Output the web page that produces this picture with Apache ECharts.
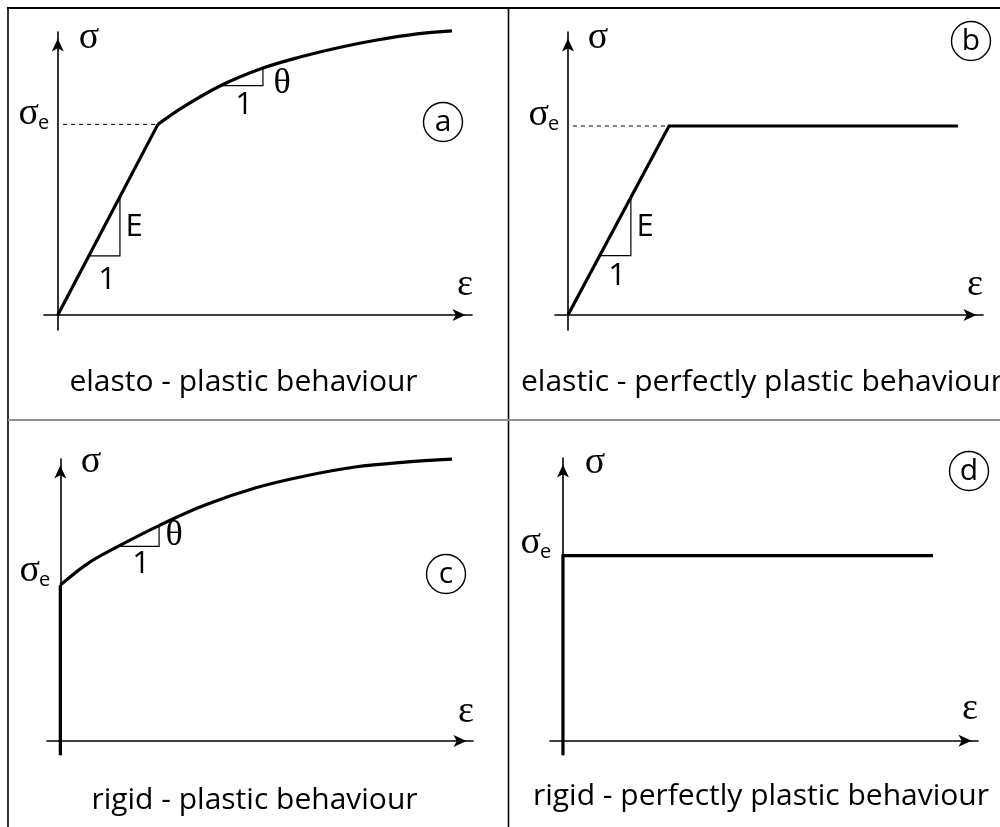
<!DOCTYPE html>
<html>
<head>
<meta charset="utf-8">
<title>Stress-strain idealisations</title>
<script src="https://cdn.jsdelivr.net/npm/echarts@6/dist/echarts.min.js"></script>
<style>
  html, body { margin: 0; padding: 0; background: #fff; }
  #chart { width: 1000px; height: 827px; }
</style>
</head>
<body>
<div id="chart"></div>
<script>
// ---- Panel (a): elasto-plastic behaviour ----
const elastoElastic = [[0, 0], [7.25, 12.8]];
const elastoHardening = [[7.25, 12.8], [9.07, 13.96], [11.89, 15.44], [14.86, 16.58], [17.54, 17.32],
  [20.22, 17.93], [23.12, 18.46], [26.02, 18.87], [28.55, 19.07]];
const elastoYieldGuide = [[0.38, 12.8], [7.25, 12.8]];
const elastoSlopeE = [[2.25, 3.97], [4.5, 3.97], [4.5, 7.95]];
const elastoSlopeTheta = [[11.75, 15.4], [14.86, 15.4], [14.86, 16.58]];

// ---- Panel (b): elastic - perfectly plastic behaviour ----
const perfectElasticPlastic = [[0, 0], [7.79, 12.69], [30.07, 12.69]];
const perfectYieldGuide = [[0.39, 12.69], [7.79, 12.69]];
const perfectSlopeE = [[2.45, 3.99], [4.85, 3.99], [4.85, 7.9]];

// ---- Panel (c): rigid-plastic behaviour ----
const rigidRise = [[0, -1], [0, 11.05]];
const rigidHardening = [[0, 11.05], [2.08, 12.6], [4.34, 13.8], [7.49, 15.31], [10.87, 16.73],
  [14.63, 17.94], [18.38, 18.79], [22.13, 19.43], [25.89, 19.78], [29.42, 19.99]];
const rigidSlopeTheta = [[4.34, 13.8], [7.42, 13.8], [7.42, 15.3]];

// ---- Panel (d): rigid - perfectly plastic behaviour ----
const rigidPerfect = [[0, -1], [0, 13.1], [28.53, 13.1]];

// axis extents per panel (strain, stress)
const strainRanges = [[-1, 30], [-1, 32], [-1, 31], [-1, 32]];
const stressRanges = [[-1, 19], [-1, 19], [-1, 20], [-1, 20]];

const panelTags = ['a', 'b', 'c', 'd'];
const captions = [
  'elasto - plastic behaviour',
  'elastic - perfectly plastic behaviour',
  'rigid - plastic behaviour',
  'rigid - perfectly plastic behaviour'
];
const stressSymbol = 'σ';
const strainSymbol = 'ε';
const yieldSub = 'e';

const chart = echarts.init(document.getElementById('chart'), null, { renderer: 'canvas' });

const grids = [
  { left: 44, top: 32, width: 428, height: 298 },
  { left: 555, top: 32, width: 428, height: 298 },
  { left: 47, top: 459, width: 426, height: 296 },
  { left: 550, top: 458, width: 428, height: 297 }
];

const axisLineStyle = { color: '#000', width: 1.6 };
function makeAxis(i, range) {
  return {
    type: 'value', gridIndex: i, min: range[0], max: range[1],
    axisLine: {
      show: true, onZero: true,
      symbol: ['none', 'arrow'], symbolSize: [9, 13], symbolOffset: [0, -6.5],
      lineStyle: axisLineStyle
    },
    axisTick: { show: false }, axisLabel: { show: false }, splitLine: { show: false }
  };
}

function lineSeries(i, data, width, extra) {
  return Object.assign({
    type: 'line', xAxisIndex: i, yAxisIndex: i, data: data,
    showSymbol: false, symbol: 'none', clip: false, silent: true,
    lineStyle: { color: '#000', width: width, join: 'miter', cap: 'butt' },
    animation: false, z: 3
  }, extra || {});
}

const thick = 3.2, thin = 1.2;
const dashed = { lineStyle: { color: '#000', width: 1, type: [4, 4] } };
const series = [
  lineSeries(0, elastoElastic, thick),
  lineSeries(0, elastoHardening, thick, { smooth: 0.35 }),
  lineSeries(0, elastoYieldGuide, 1, dashed),
  lineSeries(0, elastoSlopeE, thin),
  lineSeries(0, elastoSlopeTheta, thin),

  lineSeries(1, perfectElasticPlastic, thick),
  lineSeries(1, perfectYieldGuide, 1, dashed),
  lineSeries(1, perfectSlopeE, thin),

  lineSeries(2, rigidRise, thick),
  lineSeries(2, rigidHardening, thick, { smooth: 0.35 }),
  lineSeries(2, rigidSlopeTheta, thin),

  lineSeries(3, rigidPerfect, thick)
];

// annotation helpers
const greek = '"Liberation Serif", "DejaVu Serif", serif';
const sans = '"Open Sans", "Noto Sans", sans-serif';
const greekSize = 38;
function txt(x, y, text, size, family, align) {
  return {
    type: 'text', x: x, y: y, z: 10, silent: true,
    style: { text: text, fontSize: size, fontFamily: family, fill: '#000',
      align: align || 'center', verticalAlign: 'middle' }
  };
}
function ring(cx, cy, letter) {
  return [
    { type: 'circle', z: 10, silent: true, shape: { cx: cx, cy: cy, r: 19.5 },
      style: { fill: 'none', stroke: '#000', lineWidth: 1.4 } },
    txt(cx, cy, letter, 30, sans)
  ];
}
// σ with subscript e, right edge of the pair placed at x
function yieldLabel(xRight, y) {
  return [
    txt(xRight - 10, y, stressSymbol, greekSize, greek, 'right'),
    txt(xRight - 11, y + 9, yieldSub, 20, sans, 'left')
  ];
}
function frameLine(x1, y1, x2, y2, color, w) {
  return { type: 'line', z: 20, silent: true, shape: { x1: x1, y1: y1, x2: x2, y2: y2 },
    style: { stroke: color, lineWidth: w } };
}

const graphics = [
  // frame
  frameLine(7, 8, 1000, 8, '#000', 2),
  frameLine(8, 7, 8, 827, '#000', 1.6),
  frameLine(508.5, 8, 508.5, 827, '#000', 1.6),
  frameLine(8, 420, 1000, 420, '#8f8f8f', 2),

  // (a)
  txt(89, 38, stressSymbol, greekSize, greek),
  ...yieldLabel(49, 114),
  txt(465, 285, strainSymbol, greekSize, greek),
  txt(134, 227, 'E', 31, sans),
  txt(107, 280, '1', 31, sans),
  txt(282, 84, 'θ', 36, greek),
  txt(244, 105, '1', 31, sans),
  ...ring(443, 122, panelTags[0]),
  txt(243.5, 382, captions[0], 30, sans),

  // (b)
  txt(598, 38, stressSymbol, greekSize, greek),
  ...yieldLabel(559, 115),
  txt(975, 285, strainSymbol, greekSize, greek),
  txt(645, 227, 'E', 31, sans),
  txt(617, 276, '1', 31, sans),
  ...ring(971, 41, panelTags[1]),
  txt(521, 382, captions[1], 30, sans, 'left'),

  // (c)
  txt(91, 462, stressSymbol, greekSize, greek),
  ...yieldLabel(50, 571),
  txt(466, 712, strainSymbol, greekSize, greek),
  txt(174, 536, 'θ', 36, greek),
  txt(141, 564, '1', 31, sans),
  ...ring(446, 574, panelTags[2]),
  txt(254.5, 800, captions[2], 30, sans),

  // (d)
  txt(595, 463, stressSymbol, greekSize, greek),
  ...yieldLabel(551, 543),
  txt(970, 709, strainSymbol, greekSize, greek),
  ...ring(969, 471, panelTags[3]),
  txt(761, 796, captions[3], 30, sans)
];

chart.setOption({
  backgroundColor: '#fff',
  animation: false,
  grid: grids,
  xAxis: strainRanges.map((r, i) => makeAxis(i, r)),
  yAxis: stressRanges.map((r, i) => makeAxis(i, r)),
  series: series,
  graphic: graphics
});
</script>
</body>
</html>
